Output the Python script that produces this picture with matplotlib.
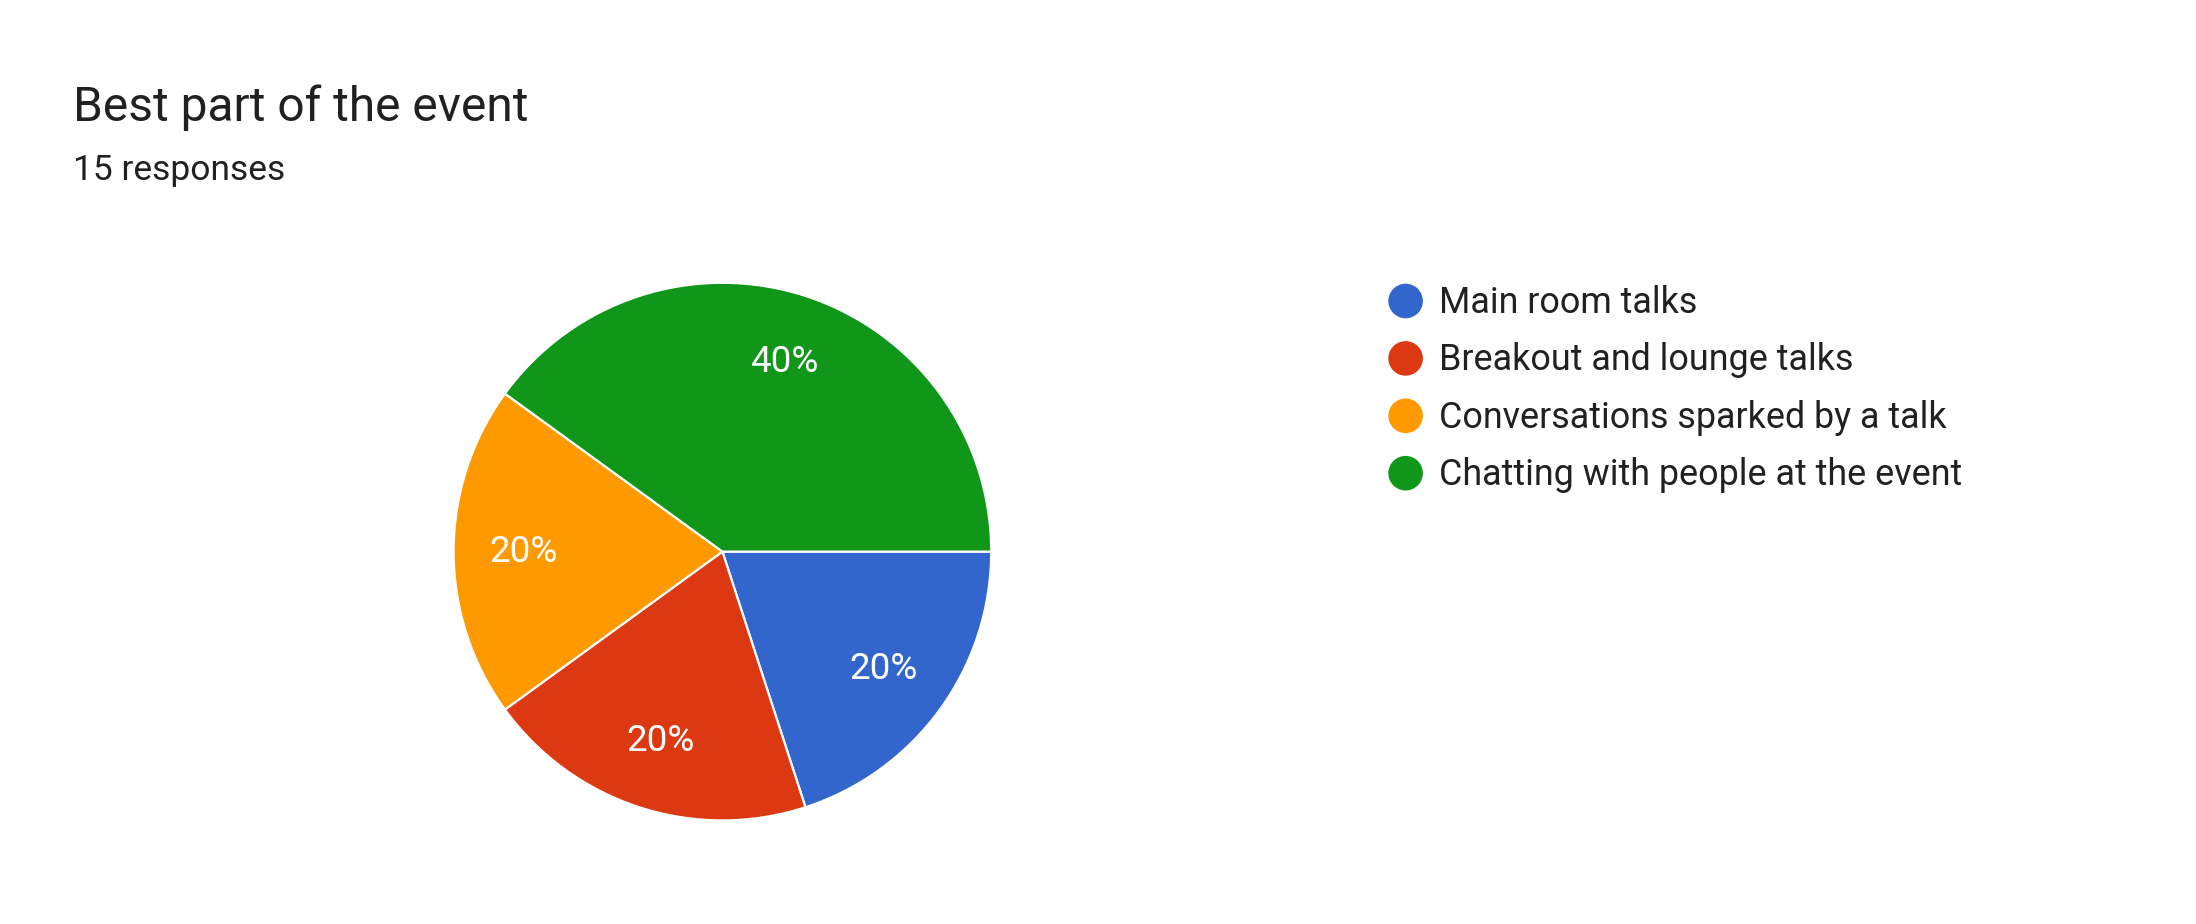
import matplotlib.pyplot as plt

W, H = 2196, 924
S = 1.4  # reference drawn at 1568 px wide

title = "Best part of the event"
subtitle = "15 responses"
categories = ["Main room talks", "Breakout and lounge talks",
              "Conversations sparked by a talk", "Chatting with people at the event"]
counts = [3, 3, 3, 6]
colors = ["#3366CC", "#DC3912", "#FF9900", "#109618"]

plt.rcParams["font.family"] = ["Roboto", "DejaVu Sans"]

fig = plt.figure(figsize=(W / 100, H / 100), dpi=100)

# overlay in pixel coordinates for title and legend
over = fig.add_axes([0, 0, 1, 1])
over.set_xlim(0, W)
over.set_ylim(H, 0)
over.axis("off")

over.text(52 * S, 77 * S, title, fontsize=34.5, color="#212121", va="center", ha="left")
over.text(52 * S, 122 * S, subtitle, fontsize=25.5, color="#212121", va="center", ha="left")

for i, (name, c) in enumerate(zip(categories, colors)):
    y = (215 + 41 * i) * S
    over.scatter([1004 * S], [y], s=620, color=c, edgecolors="none")
    over.text(1028 * S, y + 1.5 * S, name, fontsize=25.8, color="#212121", va="center", ha="left")

# pie
cx, cy, r = 516 * S, H - 394 * S, 192 * S
ax = fig.add_axes([(cx - r) / W, (cy - r) / H, 2 * r / W, 2 * r / H])
ax.pie(counts, colors=colors, startangle=0, counterclock=False, radius=1,
       autopct=lambda p: f"{p:.0f}%", pctdistance=0.74,
       wedgeprops=dict(edgecolor="white", linewidth=1.6),
       textprops=dict(color="white", fontsize=26.5))
ax.set_xlim(-1, 1)
ax.set_ylim(-1, 1)
ax.set_aspect("equal")

fig.savefig("out.png", dpi=100, facecolor="white")
